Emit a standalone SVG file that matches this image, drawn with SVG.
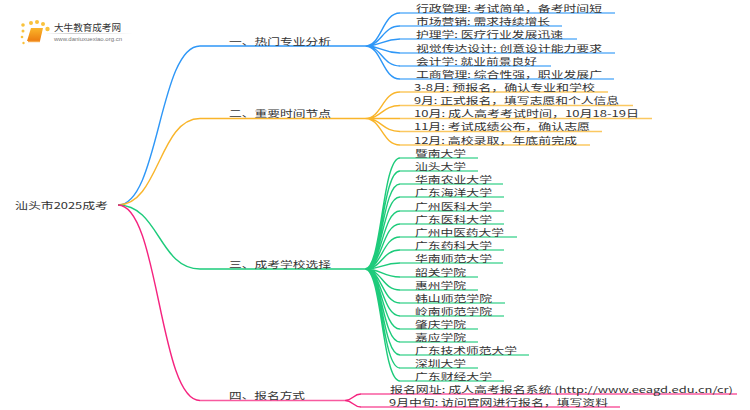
<svg xmlns="http://www.w3.org/2000/svg" width="750" height="410" viewBox="0 0 750 410">
<style>
text{font-family:"Noto Sans CJK SC","Liberation Sans",sans-serif;font-size:9px;fill:#333}
.c{fill:none;stroke-width:1.4}
.l{fill:none;stroke-width:1.4;opacity:.75}
.b{stroke:#2e97f7}.o{stroke:#f9b52b}.g{stroke:#1dcb7b}.p{stroke:#f5237f}
.d{fill:#f9c23c}
</style>
<defs><linearGradient id="fade" x1="0" x2="1" y1="0" y2="0"><stop offset="0" stop-color="#ccc" stop-opacity="0"/><stop offset=".3" stop-color="#ccc"/><stop offset="1" stop-color="#ccc" stop-opacity="0"/></linearGradient>
<linearGradient id="bk" x1="0" x2="0" y1="0" y2="1"><stop offset="0" stop-color="#fbb62a"/><stop offset="1" stop-color="#ec7d10"/></linearGradient></defs>
<g id="logo">
<circle class="d" cx="23" cy="25" r="1.800"/><circle class="d" cx="31" cy="23" r="2"/><circle class="d" cx="37" cy="22" r="2"/><circle class="d" cx="43" cy="24" r="2"/><circle class="d" cx="47.500" cy="29" r="2.200"/><circle class="d" cx="23" cy="31" r="1.500"/><circle class="d" cx="22" cy="37" r="1.300"/><circle class="d" cx="23.500" cy="43" r="1.200"/>
<path d="M31 28H43L40 41H27Z" fill="url(#bk)"/><path d="M28 41.500H40" stroke="#f7a94a" stroke-width="1.400"/>
<rect x="45" y="33" width="88" height="1" fill="url(#fade)"/>
<text x="54" y="31" style="font-size:9.600px" textLength="67" lengthAdjust="spacingAndGlyphs">大牛教育成考网</text>
<text x="54" y="41" style="font-size:6.200px;fill:#777;font-family:'Liberation Sans',sans-serif" textLength="68" lengthAdjust="spacingAndGlyphs">www.daniuxuexiao.org.cn</text>
</g>
<g id="connectors">
<path class="c b" d="M118 205C159 205 159 46 200 46H365"/>
<path class="c o" d="M118 205C159 205 159 118.500 200 118.500H365"/>
<path class="c g" d="M118 205C159 205 159 269 200 269H365"/>
<path class="c p" d="M118 205C159 205 159 400.500 200 400.500"/>
<path class="l p" d="M200 400.500H345"/>
<g class="b">
<path class="c" d="M365 46C382 46 382 13 400 13M365 46C382 46 382 26 400 26M365 46C382 46 382 39 400 39M365 46C382 46 382 53 400 53M365 46C382 46 382 66 400 66M365 46C382 46 382 79 400 79"/>
<path class="l" d="M400 13H615M400 26H562M400 39H577M400 53H615M400 66H551M400 79H614"/>
</g>
<g class="o">
<path class="c" d="M365 118.500C382 118.500 382 92 400 92M365 118.500C382 118.500 382 105.500 400 105.500M365 118.500H400M365 118.500C382 118.500 382 131.500 400 131.500M365 118.500C382 118.500 382 145 400 145"/>
<path class="l" d="M400 92H608M400 105.500H633M400 118.500H652M400 131.500H602M400 145H590"/>
</g>
<g class="g">
<path class="c" d="M365 269C382 269 382 158 400 158M365 269C382 269 382 171 400 171M365 269C382 269 382 184 400 184M365 269C382 269 382 197 400 197M365 269C382 269 382 211 400 211M365 269C382 269 382 224 400 224M365 269C382 269 382 237 400 237M365 269C382 269 382 250 400 250M365 269C382 269 382 263 400 263M365 269C382 269 382 277 400 277M365 269C382 269 382 290 400 290M365 269C382 269 382 303 400 303M365 269C382 269 382 316 400 316M365 269C382 269 382 329 400 329M365 269C382 269 382 342 400 342M365 269C382 269 382 355 400 355M365 269C382 269 382 368 400 368M365 269C382 269 382 381 400 381"/>
<path class="l" d="M400 158H478M400 171H478M400 184H503M400 197H504M400 211H504M400 224H504M400 237H517M400 250H504M400 263H503M400 277H478M400 290H478M400 303H505M400 316H504M400 329H478M400 342H478M400 355H529M400 368H478M400 381H504"/>
</g>
<g class="p">
<path class="c" d="M345 400.500C353 400.500 353 394 361 394M345 400.500C353 400.500 353 407 361 407"/>
<path class="l" d="M361 394H737M361 407H620"/>
</g>
</g>
<g id="root"><text x="15" y="208.500" textLength="93" lengthAdjust="spacingAndGlyphs">汕头市2025成考</text></g>
<g id="b1"><text x="229" y="44.500" textLength="102" lengthAdjust="spacingAndGlyphs">一、热门专业分析</text></g>
<g id="b2"><text x="229" y="117" textLength="102" lengthAdjust="spacingAndGlyphs">二、重要时间节点</text></g>
<g id="b3"><text x="229" y="267.500" textLength="102" lengthAdjust="spacingAndGlyphs">三、成考学校选择</text></g>
<g id="b4"><text x="229" y="399" textLength="76" lengthAdjust="spacingAndGlyphs">四、报名方式</text></g>
<g id="n1"><text x="416" y="11.500" textLength="186" lengthAdjust="spacingAndGlyphs">行政管理: 考试简单，备考时间短</text></g>
<g id="n2"><text x="416" y="24.500" textLength="134" lengthAdjust="spacingAndGlyphs">市场营销: 需求持续增长</text></g>
<g id="n3"><text x="416" y="37.500" textLength="147" lengthAdjust="spacingAndGlyphs">护理学: 医疗行业发展迅速</text></g>
<g id="n4"><text x="416" y="51.500" textLength="186" lengthAdjust="spacingAndGlyphs">视觉传达设计: 创意设计能力要求</text></g>
<g id="n5"><text x="416" y="64.500" textLength="121" lengthAdjust="spacingAndGlyphs">会计学: 就业前景良好</text></g>
<g id="n6"><text x="416" y="77.500" textLength="186" lengthAdjust="spacingAndGlyphs">工商管理: 综合性强，职业发展广</text></g>
<g id="n7"><text x="414" y="90.500" textLength="181" lengthAdjust="spacingAndGlyphs">3-8月: 预报名，确认专业和学校</text></g>
<g id="n8"><text x="414" y="104" textLength="205" lengthAdjust="spacingAndGlyphs">9月: 正式报名，填写志愿和个人信息</text></g>
<g id="n9"><text x="414" y="117" textLength="225" lengthAdjust="spacingAndGlyphs">10月: 成人高考考试时间，10月18-19日</text></g>
<g id="n10"><text x="414" y="130" textLength="176" lengthAdjust="spacingAndGlyphs">11月: 考试成绩公布，确认志愿</text></g>
<g id="n11"><text x="414" y="143.500" textLength="163" lengthAdjust="spacingAndGlyphs">12月: 高校录取，年底前完成</text></g>
<g id="s1"><text x="415" y="156.500" textLength="51" lengthAdjust="spacingAndGlyphs">暨南大学</text></g>
<g id="s2"><text x="415" y="169.500" textLength="51" lengthAdjust="spacingAndGlyphs">汕头大学</text></g>
<g id="s3"><text x="415" y="182.500" textLength="77" lengthAdjust="spacingAndGlyphs">华南农业大学</text></g>
<g id="s4"><text x="415" y="195.500" textLength="77" lengthAdjust="spacingAndGlyphs">广东海洋大学</text></g>
<g id="s5"><text x="415" y="209.500" textLength="77" lengthAdjust="spacingAndGlyphs">广州医科大学</text></g>
<g id="s6"><text x="415" y="222.500" textLength="77" lengthAdjust="spacingAndGlyphs">广东医科大学</text></g>
<g id="s7"><text x="415" y="235.500" textLength="89" lengthAdjust="spacingAndGlyphs">广州中医药大学</text></g>
<g id="s8"><text x="415" y="248.500" textLength="77" lengthAdjust="spacingAndGlyphs">广东药科大学</text></g>
<g id="s9"><text x="415" y="261.500" textLength="77" lengthAdjust="spacingAndGlyphs">华南师范大学</text></g>
<g id="s10"><text x="415" y="275.500" textLength="51" lengthAdjust="spacingAndGlyphs">韶关学院</text></g>
<g id="s11"><text x="415" y="288.500" textLength="51" lengthAdjust="spacingAndGlyphs">惠州学院</text></g>
<g id="s12"><text x="415" y="301.500" textLength="77" lengthAdjust="spacingAndGlyphs">韩山师范学院</text></g>
<g id="s13"><text x="415" y="314.500" textLength="77" lengthAdjust="spacingAndGlyphs">岭南师范学院</text></g>
<g id="s14"><text x="415" y="327.500" textLength="51" lengthAdjust="spacingAndGlyphs">肇庆学院</text></g>
<g id="s15"><text x="415" y="340.500" textLength="51" lengthAdjust="spacingAndGlyphs">嘉应学院</text></g>
<g id="s16"><text x="415" y="353.500" textLength="102" lengthAdjust="spacingAndGlyphs">广东技术师范大学</text></g>
<g id="s17"><text x="415" y="366.500" textLength="51" lengthAdjust="spacingAndGlyphs">深圳大学</text></g>
<g id="s18"><text x="415" y="379.500" textLength="77" lengthAdjust="spacingAndGlyphs">广东财经大学</text></g>
<g id="w1"><text x="390" y="392.500" textLength="343" lengthAdjust="spacingAndGlyphs">报名网址: 成人高考报名系统 (http://www.eeagd.edu.cn/cr)</text></g>
<g id="w2"><text x="389" y="405.500" textLength="219" lengthAdjust="spacingAndGlyphs">9月中旬: 访问官网进行报名，填写资料</text></g>
</svg>
